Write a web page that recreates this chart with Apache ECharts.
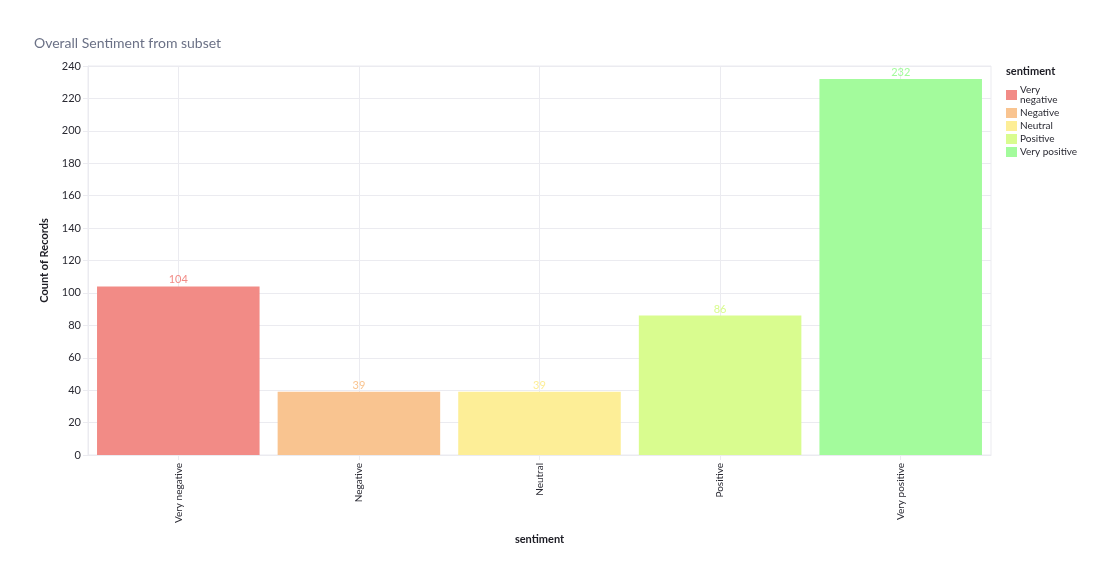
<!DOCTYPE html>
<html><head><meta charset="utf-8">
<script src="https://cdn.jsdelivr.net/npm/echarts@6/dist/echarts.min.js"></script>
<style>html,body{margin:0;padding:0;background:#fff}#c{width:1120px;height:580px}</style>
</head><body><div id="c"></div>
<script>
const categories = ['Very negative','Negative','Neutral','Positive','Very positive'];
const counts = [104, 39, 39, 86, 232];
const colors = ['#f28b86','#f9c490','#fdee97','#d9fc8f','#a3fb9c'];
const yTicks = {min:0, max:240, interval:20};
const FONT = 'Lato, "Noto Sans", sans-serif';

const chart = echarts.init(document.getElementById('c'), null, {renderer:'canvas'});
const series = categories.map((name, i) => ({
  name: name,
  type: 'bar',
  barGap: '-100%',
  barCategoryGap: '10%',
  data: categories.map((c, j) => j === i ? counts[i] : null),
  itemStyle: {color: colors[i]},
  label: {show: true, position: 'top', distance: 1, color: colors[i], fontSize: 11, fontFamily: FONT}
}));
chart.setOption({
  animation: false,
  textStyle: {fontFamily: FONT},
  title: [
    {text: 'Overall Sentiment from subset', left: 29, top: 31,
     textStyle: {fontSize: 14, fontWeight: 'normal', color: '#6b7186', fontFamily: FONT}},
    {text: 'sentiment', left: 1001, top: 61,
     textStyle: {fontSize: 11, fontWeight: 'bold', color: '#1c1c24', fontFamily: FONT}}
  ],
  grid: {left: 88, right: 129, top: 66, bottom: 125, show: true, borderColor: '#ebebf0', borderWidth: 1},
  legend: {
    orient: 'vertical', left: 1001, top: 80,
    icon: 'rect', itemWidth: 11, itemHeight: 10, itemGap: 3,
    data: categories,
    formatter: n => n === 'Very negative' ? 'Very\nnegative' : n,
    textStyle: {fontSize: 10, color: '#2a2a33', lineHeight: 10, padding: [0,0,0,-2], fontFamily: FONT}
  },
  xAxis: {
    type: 'category', data: categories,
    name: 'sentiment', nameLocation: 'middle', nameGap: 79,
    nameTextStyle: {fontSize: 11, fontWeight: 'bold', color: '#1c1c24'},
    axisLine: {lineStyle: {color: '#ebebf0'}},
    axisTick: {show: true, alignWithLabel: true, length: 5, lineStyle: {color: '#ebebf0'}},
    splitLine: {show: true, alignWithLabel: true, lineStyle: {color: '#ebebf0'}},
    axisLabel: {rotate: 90, fontSize: 10, color: '#2a2a33', margin: 8}
  },
  yAxis: {
    type: 'value', min: yTicks.min, max: yTicks.max, interval: yTicks.interval,
    name: 'Count of Records', nameLocation: 'middle', nameGap: 38,
    nameTextStyle: {fontSize: 11, fontWeight: 'bold', color: '#1c1c24'},
    axisLine: {show: true, lineStyle: {color: '#ebebf0'}},
    axisTick: {show: true, length: 5, lineStyle: {color: '#ebebf0'}},
    splitLine: {show: true, lineStyle: {color: '#ebebf0'}},
    axisLabel: {fontSize: 11, color: '#2a2a33', margin: 7}
  },
  series: series
});
</script></body></html>
